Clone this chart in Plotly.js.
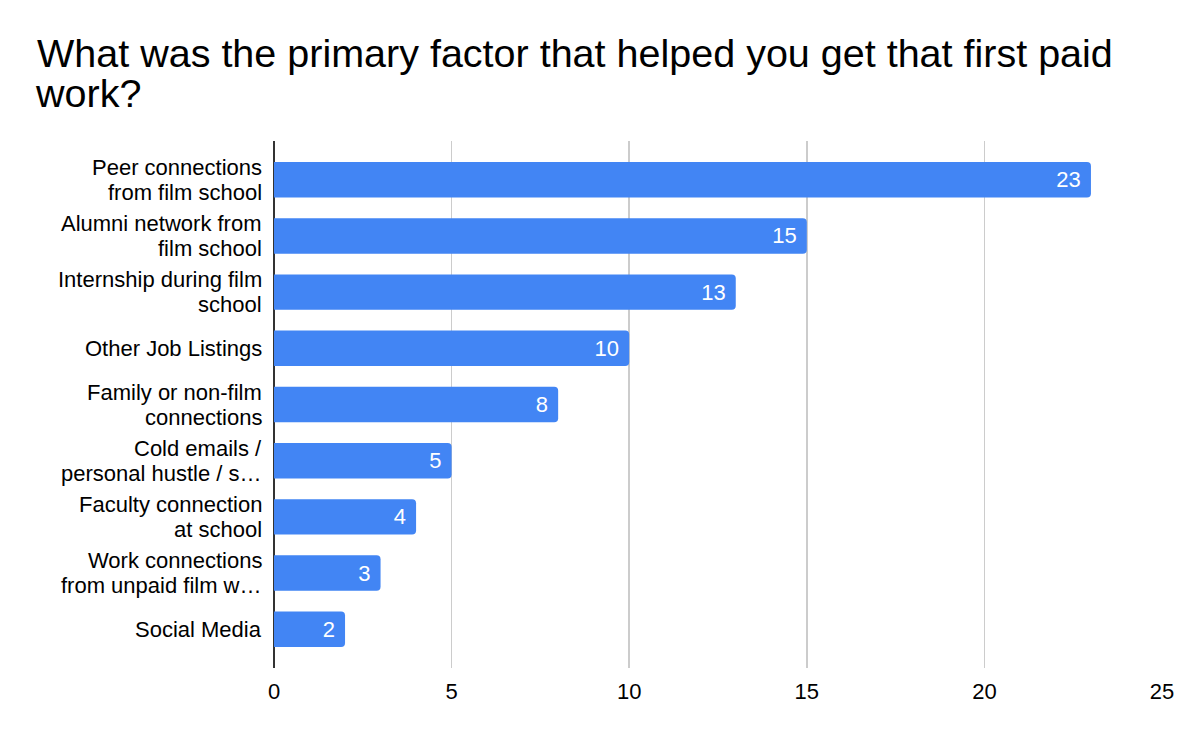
<!DOCTYPE html>
<html>
<head>
<meta charset="utf-8">
<script src="https://cdn.plot.ly/plotly-3.0.1.min.js"></script>
<style>
  html, body { margin: 0; padding: 0; background: #ffffff; }
  #chart { width: 1200px; height: 742px; }
</style>
</head>
<body>
<div id="chart"></div>
<script>
// Survey answers: primary factor behind first paid work
const factors = [
  "Peer connections<br>from film school",
  "Alumni network from<br>film school",
  "Internship during film<br>school",
  "Other Job Listings",
  "Family or non-film<br>connections",
  "Cold emails /<br>personal hustle / s…",
  "Faculty connection<br>at school",
  "Work connections<br>from unpaid film w…",
  "Social Media"
];
const responses = [23, 15, 13, 10, 8, 5, 4, 3, 2];
const xTicks = [0, 5, 10, 15, 20, 25];
const titleLines = [
  "What was the primary factor that helped you get that first paid",
  "work?"
];

const FONT = "Liberation Sans, Arial, Helvetica, sans-serif";
const TITLE_SIZE = 39.5;
const LABEL_SIZE = 22;
const LABEL_STEP = 25;   // vertical distance between wrapped label lines, px

// Category labels are drawn line by line so wrapped lines sit close together
const labelAnnotations = [];
factors.forEach(function (cat) {
  const lines = cat.split("<br>");
  lines.forEach(function (line, i) {
    labelAnnotations.push({
      xref: "paper", yref: "y",
      x: 0, y: cat,
      xanchor: "right", yanchor: "middle",
      xshift: -10,
      yshift: ((lines.length - 1) / 2 - i) * LABEL_STEP,
      text: line,
      showarrow: false,
      font: { family: FONT, size: LABEL_SIZE, color: "#000000" }
    });
  });
});

// Second line of the chart title
const titleAnnotations = [{
  xref: "paper", yref: "paper",
  x: (33 - 274) / 888, y: (668 - 93) / 527,
  xanchor: "left", yanchor: "middle",
  text: titleLines[1],
  showarrow: false,
  font: { family: FONT, size: TITLE_SIZE, color: "#000000" }
}];

const trace = {
  type: "bar",
  orientation: "h",
  y: factors,
  x: responses,
  marker: { color: "#4285f4", cornerradius: 4 },
  width: 0.63,
  text: responses.map(v => v + "\u00a0"),
  textposition: "inside",
  insidetextanchor: "end",
  textangle: 0,
  insidetextfont: { family: FONT, size: 22, color: "#ffffff" },
  hoverinfo: "x+y",
  cliponaxis: false
};

const layout = {
  width: 1200,
  height: 742,
  paper_bgcolor: "#ffffff",
  plot_bgcolor: "#ffffff",
  margin: { l: 274, r: 38, t: 141, b: 74 },
  font: { family: FONT, color: "#000000" },
  title: {
    text: titleLines[0],
    font: { family: FONT, size: TITLE_SIZE, color: "#000000" },
    x: 37 / 1200,
    xref: "container",
    xanchor: "left",
    y: 1 - 39 / 742,
    yref: "container",
    yanchor: "top"
  },
  showlegend: false,
  xaxis: {
    range: [0, 25],
    tickvals: xTicks,
    ticktext: xTicks.map(String),
    showgrid: true,
    gridcolor: "#cccccc",
    gridwidth: 1.5,
    zeroline: true,
    zerolinecolor: "#333333",
    zerolinewidth: 2,
    showline: false,
    ticks: "",
    ticklabelstandoff: 8,
    tickfont: { family: FONT, size: 22, color: "#000000" },
    fixedrange: true
  },
  yaxis: {
    type: "category",
    range: [8.69, -0.69],
    showgrid: false,
    zeroline: false,
    showline: false,
    ticks: "",
    showticklabels: false,
    fixedrange: true
  },
  annotations: labelAnnotations.concat(titleAnnotations)
};

Plotly.newPlot("chart", [trace], layout, { displayModeBar: false, staticPlot: true });
</script>
</body>
</html>
